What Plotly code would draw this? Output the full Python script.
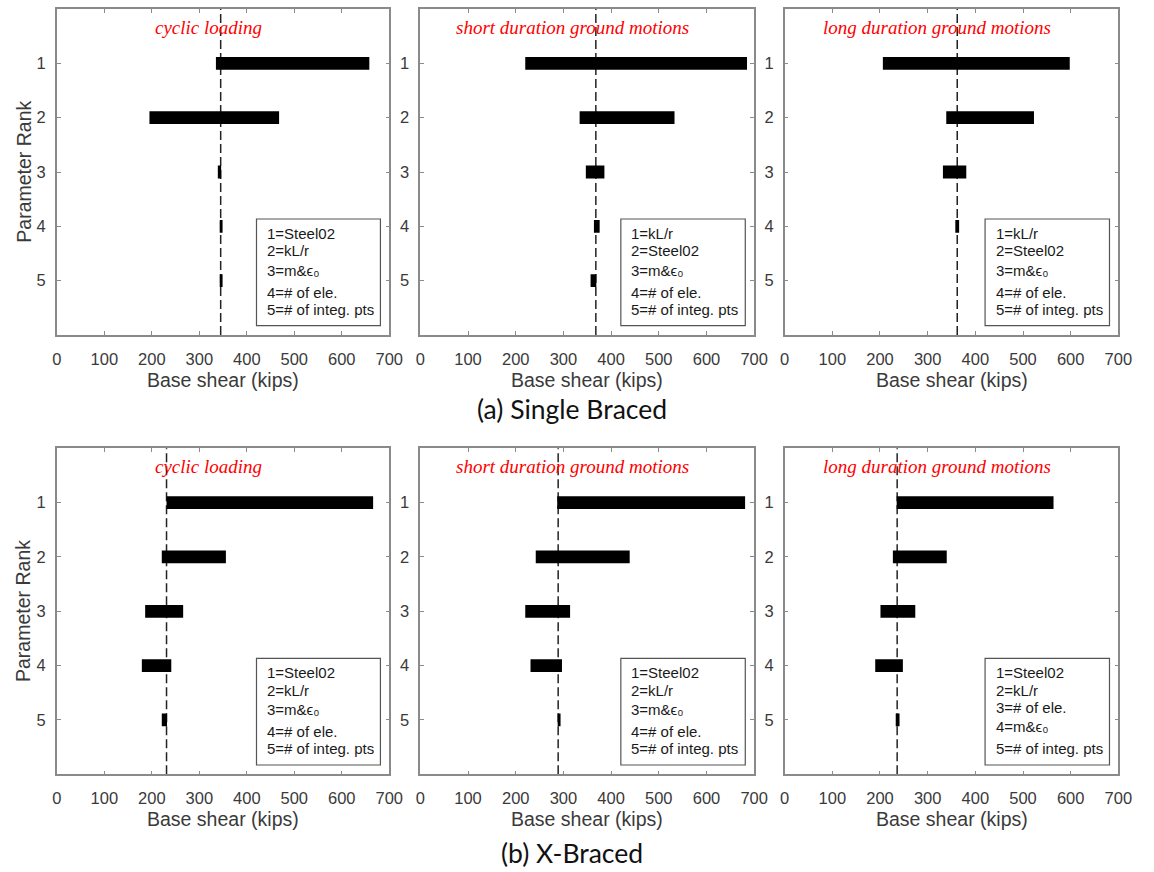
import plotly.graph_objects as go

# ---------------------------------------------------------------------------
# Data: base-shear range (kips) produced by each ranked parameter
# ---------------------------------------------------------------------------
ranks = [1, 2, 3, 4, 5]
x_tick_values = [0, 100, 200, 300, 400, 500, 600, 700]

# (a) Single braced frame
sb_cyclic_low = [335, 195, 339, 343, 343]
sb_cyclic_high = [658, 468, 346, 349, 349]
sb_cyclic_base = 345

sb_short_low = [220, 334, 347, 364, 357]
sb_short_high = [685, 533, 386, 376, 369]
sb_short_base = 368

sb_long_low = [206, 339, 332, 358, 362]
sb_long_high = [598, 523, 381, 366, 362]
sb_long_base = 362

# (b) X-braced frame
xb_cyclic_low = [231, 221, 186, 179, 221]
xb_cyclic_high = [666, 356, 266, 241, 232]
xb_cyclic_base = 231

xb_short_low = [287, 242, 220, 231, 288]
xb_short_high = [681, 439, 314, 297, 294]
xb_short_base = 289

xb_long_low = [235, 227, 201, 190, 233]
xb_long_high = [564, 340, 274, 248, 241]
xb_long_base = 236

# Parameter keys listed in each panel
EPS0 = "m&amp;ϵ₀"
sb_cyclic_keys = ["Steel02", "kL/r", EPS0, "# of ele.", "# of integ. pts"]
sb_short_keys = ["kL/r", "Steel02", EPS0, "# of ele.", "# of integ. pts"]
sb_long_keys = ["kL/r", "Steel02", EPS0, "# of ele.", "# of integ. pts"]
xb_cyclic_keys = ["Steel02", "kL/r", EPS0, "# of ele.", "# of integ. pts"]
xb_short_keys = ["Steel02", "kL/r", EPS0, "# of ele.", "# of integ. pts"]
xb_long_keys = ["Steel02", "kL/r", "# of ele.", EPS0, "# of integ. pts"]

panel_titles = ["cyclic loading", "short duration ground motions",
                "long duration ground motions"]
row_captions = ["(a) Single Braced", "(b) X-Braced"]

# ---------------------------------------------------------------------------
# Layout geometry (pixels on a 1154 x 872 canvas)
# ---------------------------------------------------------------------------
W, H = 1154, 872
col_px = [(52.7, 390.7), (422.3, 761.7), (792.7, 1132.0)]
row_px = [(9.0, 335.0), (448.3, 774.3)]

panels = [
    (0, 0, sb_cyclic_low, sb_cyclic_high, sb_cyclic_base, sb_cyclic_keys),
    (0, 1, sb_short_low, sb_short_high, sb_short_base, sb_short_keys),
    (0, 2, sb_long_low, sb_long_high, sb_long_base, sb_long_keys),
    (1, 0, xb_cyclic_low, xb_cyclic_high, xb_cyclic_base, xb_cyclic_keys),
    (1, 1, xb_short_low, xb_short_high, xb_short_base, xb_short_keys),
    (1, 2, xb_long_low, xb_long_high, xb_long_base, xb_long_keys),
]

FRAME = "#8a8a8a"
TICK_TXT = "#3a3a3a"
SANS = "Liberation Sans"

fig = go.Figure()
layout = dict(
    width=W, height=H,
    margin=dict(l=0, r=0, t=0, b=0),
    paper_bgcolor="white", plot_bgcolor="white",
    showlegend=False,
    font=dict(family=SANS, color=TICK_TXT),
)
shapes = []
annotations = []

for i, (r, c, low, high, base, keys) in enumerate(panels):
    n = i + 1
    xa = "x" if n == 1 else f"x{n}"
    ya = "y" if n == 1 else f"y{n}"
    x0p, x1p = col_px[c]
    y0p, y1p = row_px[r]

    fig.add_trace(go.Bar(
        y=ranks,
        x=[h - l for l, h in zip(low, high)],
        base=low,
        orientation="h",
        width=0.235,
        marker=dict(color="black", line=dict(width=0)),
        xaxis=xa, yaxis=ya,
        hoverinfo="skip",
    ))

    layout["xaxis" if n == 1 else f"xaxis{n}"] = dict(
        domain=[x0p / W, x1p / W],
        anchor=ya,
        range=[0, 700],
        tickvals=x_tick_values,
        ticks="inside", ticklen=4, tickcolor=FRAME, tickwidth=1,
        showline=True, linecolor=FRAME, linewidth=1.5, mirror="ticks",
        showgrid=False, zeroline=False,
        tickfont=dict(size=16.5, color=TICK_TXT),
        ticklabelstandoff=8,
        fixedrange=True,
    )
    layout["yaxis" if n == 1 else f"yaxis{n}"] = dict(
        domain=[1 - y1p / H, 1 - y0p / H],
        anchor=xa,
        range=[6, 0],
        tickvals=ranks,
        ticks="inside", ticklen=4, tickcolor=FRAME, tickwidth=1,
        showline=True, linecolor=FRAME, linewidth=1.5, mirror="ticks",
        showgrid=False, zeroline=False,
        tickfont=dict(size=16.5, color=TICK_TXT),
        ticklabelstandoff=6,
        fixedrange=True,
    )

    # baseline (nominal model) base shear
    shapes.append(dict(
        type="line", xref=xa, yref=f"{ya} domain",
        x0=base, x1=base, y0=0, y1=1,
        line=dict(color="#222222", width=1.5, dash="9px,4px"),
        layer="below",
    ))

    # key box
    shapes.append(dict(
        type="rect", xref=f"{xa} domain", yref=f"{ya} domain",
        x0=0.6006, x1=0.9734, y0=0.0285, y1=0.3558,
        line=dict(color="#555555", width=1.2), fillcolor="white",
        layer="above",
    ))
    off = 14.3
    for k, key in enumerate(keys):
        has_sub = key == EPS0
        annotations.append(dict(
            xref=f"{xa} domain", yref=f"{ya} domain",
            x=0.626, y=1 - (210 + off + (2 if has_sub else 0)) / 326,
            xanchor="left", yanchor="middle",
            text=f"{k + 1}={key}", showarrow=False,
            font=dict(family=SANS, size=15, color="#1a1a1a"),
        ))
        off += 24 if has_sub else 17.4

    # panel title
    annotations.append(dict(
        xref=xa, yref=ya, x=320, y=0.34,
        xanchor="center", yanchor="middle",
        text=f"<i>{panel_titles[c]}</i>", showarrow=False,
        font=dict(family="Liberation Serif", size=19, color="#ff0000"),
    ))

    # x-axis title
    annotations.append(dict(
        xref="paper", yref="paper",
        x=(x0p + x1p) / 2 / W, y=1 - (y1p + 45) / H,
        xanchor="center", yanchor="middle",
        text="Base shear (kips)", showarrow=False,
        font=dict(family=SANS, size=19.5, color=TICK_TXT),
    ))

    if c == 0:
        annotations.append(dict(
            xref="paper", yref="paper",
            x=19 / W, y=1 - (y0p + y1p) / 2 / H,
            xanchor="center", yanchor="middle", textangle=-90,
            text="Parameter Rank", showarrow=False,
            font=dict(family=SANS, size=19.5, color=TICK_TXT),
        ))

# row captions
for r, (cap, cy) in enumerate(zip(row_captions, [409, 853])):
    annotations.append(dict(
        xref="paper", yref="paper", x=576 / W, y=1 - cy / H,
        xanchor="center", yanchor="middle",
        text=cap, showarrow=False,
        font=dict(family="Lato", size=26.5, color="#111111"),
    ))

layout["shapes"] = shapes
layout["annotations"] = annotations
fig.update_layout(**layout)

fig.write_html("out.html")
